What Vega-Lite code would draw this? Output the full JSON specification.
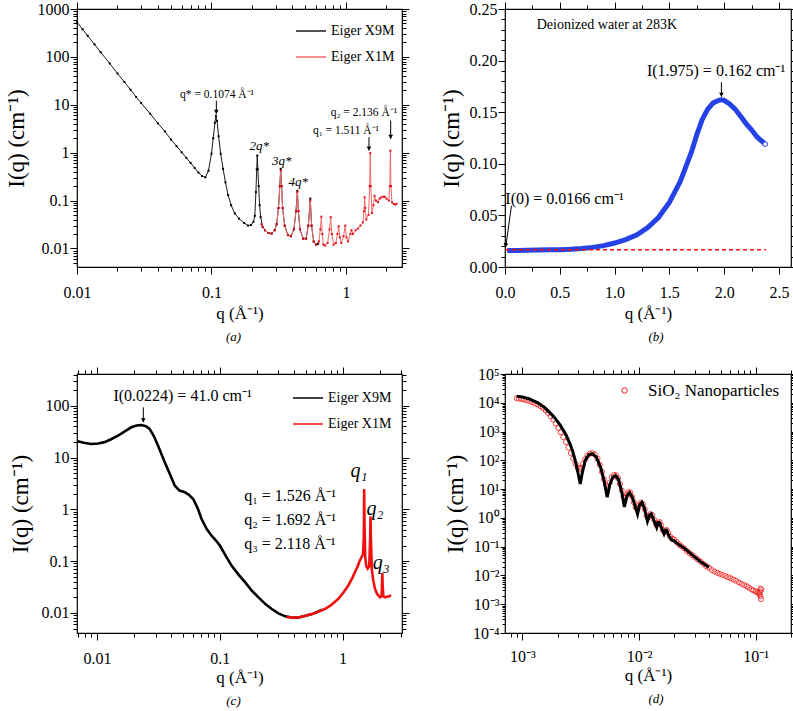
{
"$schema":"https://vega.github.io/schema/vega-lite/v6.json",
"padding":{"left":4,"top":0,"right":0,"bottom":0},
"background":"white",
"columns":2,
"spacing":{"row":107,"column":103},
"bounds":"flush",
"resolve":{"scale":{"color":"independent"}},
"datasets":{
"a9":[{"q":0.01,"I":530},{"q":0.011,"I":378},{"q":0.012,"I":276},{"q":0.0135,"I":183},{"q":0.015,"I":125},{"q":0.0175,"I":73},{"q":0.02,"I":45},{"q":0.0225,"I":30},{"q":0.025,"I":20.6},{"q":0.0275,"I":14.6},{"q":0.03,"I":10.9},{"q":0.035,"I":6.5},{"q":0.04,"I":4.1},{"q":0.045,"I":2.78},{"q":0.05,"I":1.88},{"q":0.055,"I":1.37},{"q":0.06,"I":1.02},{"q":0.065,"I":0.78},{"q":0.07,"I":0.61},{"q":0.075,"I":0.48},{"q":0.08,"I":0.385},{"q":0.085,"I":0.325},{"q":0.09,"I":0.305},{"q":0.095,"I":0.42},{"q":0.1,"I":0.95},{"q":0.103,"I":2.0},{"q":0.106,"I":4.2},{"q":0.108,"I":5.9},{"q":0.11,"I":4.6},{"q":0.113,"I":2.2},{"q":0.117,"I":0.95},{"q":0.122,"I":0.46},{"q":0.127,"I":0.24},{"q":0.133,"I":0.13},{"q":0.14,"I":0.08},{"q":0.149,"I":0.054},{"q":0.16,"I":0.042},{"q":0.175,"I":0.034},{"q":0.187,"I":0.03},{"q":0.197,"I":0.031},{"q":0.205,"I":0.036},{"q":0.21,"I":0.048},{"q":0.214,"I":0.15},{"q":0.217,"I":0.45},{"q":0.219,"I":0.87},{"q":0.221,"I":0.45},{"q":0.2245,"I":0.2},{"q":0.228,"I":0.08},{"q":0.232,"I":0.045},{"q":0.24,"I":0.028},{"q":0.25,"I":0.024},{"q":0.265,"I":0.021},{"q":0.28,"I":0.0205},{"q":0.295,"I":0.024},{"q":0.305,"I":0.032},{"q":0.315,"I":0.07},{"q":0.322,"I":0.2},{"q":0.327,"I":0.46},{"q":0.332,"I":0.2},{"q":0.338,"I":0.07},{"q":0.35,"I":0.03},{"q":0.37,"I":0.019},{"q":0.39,"I":0.018},{"q":0.41,"I":0.025},{"q":0.425,"I":0.06},{"q":0.435,"I":0.16},{"q":0.443,"I":0.06},{"q":0.455,"I":0.025},{"q":0.48,"I":0.016},{"q":0.505,"I":0.016},{"q":0.525,"I":0.03},{"q":0.543,"I":0.11},{"q":0.555,"I":0.03},{"q":0.575,"I":0.014},{"q":0.6,"I":0.012},{"q":0.62,"I":0.0125}],
"a1":[{"q":0.235,"I":0.032},{"q":0.24,"I":0.028},{"q":0.25,"I":0.024},{"q":0.265,"I":0.021},{"q":0.28,"I":0.0205},{"q":0.295,"I":0.024},{"q":0.305,"I":0.032},{"q":0.315,"I":0.07},{"q":0.322,"I":0.2},{"q":0.327,"I":0.42},{"q":0.332,"I":0.2},{"q":0.338,"I":0.07},{"q":0.35,"I":0.03},{"q":0.37,"I":0.019},{"q":0.39,"I":0.018},{"q":0.41,"I":0.025},{"q":0.425,"I":0.06},{"q":0.435,"I":0.15},{"q":0.443,"I":0.06},{"q":0.455,"I":0.025},{"q":0.48,"I":0.016},{"q":0.505,"I":0.016},{"q":0.525,"I":0.03},{"q":0.543,"I":0.1},{"q":0.555,"I":0.03},{"q":0.575,"I":0.014},{"q":0.6,"I":0.012},{"q":0.63,"I":0.014},{"q":0.645,"I":0.025},{"q":0.656,"I":0.046},{"q":0.667,"I":0.02},{"q":0.68,"I":0.012},{"q":0.7,"I":0.0115},{"q":0.73,"I":0.013},{"q":0.755,"I":0.025},{"q":0.77,"I":0.045},{"q":0.785,"I":0.02},{"q":0.81,"I":0.012},{"q":0.84,"I":0.013},{"q":0.865,"I":0.02},{"q":0.882,"I":0.029},{"q":0.9,"I":0.017},{"q":0.923,"I":0.013},{"q":0.96,"I":0.018},{"q":0.988,"I":0.03},{"q":1.01,"I":0.017},{"q":1.035,"I":0.014},{"q":1.08,"I":0.02},{"q":1.1,"I":0.024},{"q":1.127,"I":0.02},{"q":1.18,"I":0.024},{"q":1.228,"I":0.026},{"q":1.28,"I":0.03},{"q":1.337,"I":0.035},{"q":1.36,"I":0.06},{"q":1.376,"I":0.117},{"q":1.39,"I":0.07},{"q":1.416,"I":0.04},{"q":1.47,"I":0.05},{"q":1.5,"I":0.2},{"q":1.515,"I":0.98},{"q":1.53,"I":0.2},{"q":1.56,"I":0.055},{"q":1.6,"I":0.08},{"q":1.63,"I":0.126},{"q":1.67,"I":0.1},{"q":1.73,"I":0.093},{"q":1.78,"I":0.11},{"q":1.83,"I":0.117},{"q":1.9,"I":0.12},{"q":1.94,"I":0.12},{"q":2.0,"I":0.11},{"q":2.08,"I":0.1},{"q":2.12,"I":0.2},{"q":2.14,"I":1.1},{"q":2.16,"I":0.2},{"q":2.2,"I":0.092},{"q":2.27,"I":0.085},{"q":2.33,"I":0.082},{"q":2.38,"I":0.086}],
"a_txt":[{"q":0.11,"I":16.3,"t":"q* = 0.1074 Å⁻¹"},{"q":1.36,"I":6.77,"t":"q₂ = 2.136 Å⁻¹"},{"q":1.0,"I":2.89,"t":"q₁ = 1.511 Å⁻¹"}],
"a_it":[{"q":0.2266,"I":1.41,"t":"2q*"},{"q":0.3334,"I":0.686,"t":"3q*"},{"q":0.4415,"I":0.243,"t":"4q*"}],
"a_arr":[{"q":0.1087,"I":12.2,"I2":6.46},{"q":1.483,"I":2.11,"I2":1.107},{"q":2.15,"I":4.68,"I2":1.94}],
"b":[{"q":0.02,"I":0.016},{"q":0.1,"I":0.0161},{"q":0.2,"I":0.0162},{"q":0.3,"I":0.0164},{"q":0.4,"I":0.0166},{"q":0.5,"I":0.0168},{"q":0.6,"I":0.0172},{"q":0.7,"I":0.0179},{"q":0.8,"I":0.019},{"q":0.9,"I":0.0207},{"q":1.0,"I":0.0232},{"q":1.1,"I":0.0265},{"q":1.2,"I":0.031},{"q":1.3,"I":0.038},{"q":1.4,"I":0.048},{"q":1.5,"I":0.0625},{"q":1.6,"I":0.083},{"q":1.7,"I":0.111},{"q":1.75,"I":0.128},{"q":1.8,"I":0.143},{"q":1.85,"I":0.153},{"q":1.9,"I":0.159},{"q":1.95,"I":0.1615},{"q":1.975,"I":0.162},{"q":2.0,"I":0.1615},{"q":2.05,"I":0.158},{"q":2.1,"I":0.153},{"q":2.15,"I":0.146},{"q":2.2,"I":0.139},{"q":2.25,"I":0.133},{"q":2.3,"I":0.126},{"q":2.375,"I":0.119}],
"b_end":[{"q":2.375,"I":0.119}],
"bdash":[{"q":0,"I":0.0166},{"q":2.38,"I":0.0166}],
"b_txt":[{"q":1.926,"I":0.19,"t":"I(1.975) = 0.162 cm⁻¹"},{"q":0.543,"I":0.0659,"t":"I(0) = 0.0166 cm⁻¹"}],
"b_small":[{"q":0.93,"I":0.2345,"t":"Deionized water at 283K"}],
"b_arrv":[{"q":1.975,"I":0.179,"I2":0.165}],
"b_arrs":[{"q":0.059,"q2":0.006,"I":0.0594,"I2":0.0191}],
"c9":[{"q":0.00695,"I":20.5},{"q":0.0078,"I":19.2},{"q":0.00893,"I":18.2},{"q":0.0102,"I":18.6},{"q":0.0115,"I":19.8},{"q":0.013,"I":22.5},{"q":0.0148,"I":26.3},{"q":0.0168,"I":32},{"q":0.019,"I":38.3},{"q":0.021,"I":41.5},{"q":0.0229,"I":42.2},{"q":0.025,"I":40},{"q":0.0268,"I":35.5},{"q":0.029,"I":26},{"q":0.0314,"I":16.9},{"q":0.0335,"I":11.5},{"q":0.0356,"I":8.07},{"q":0.039,"I":4.9},{"q":0.043,"I":2.86},{"q":0.047,"I":2.3},{"q":0.0519,"I":2.13},{"q":0.056,"I":1.9},{"q":0.0607,"I":1.58},{"q":0.066,"I":1.05},{"q":0.071,"I":0.65},{"q":0.078,"I":0.42},{"q":0.0857,"I":0.309},{"q":0.093,"I":0.25},{"q":0.1004,"I":0.198},{"q":0.112,"I":0.125},{"q":0.125,"I":0.081},{"q":0.142,"I":0.055},{"q":0.161,"I":0.0388},{"q":0.182,"I":0.027},{"q":0.2065,"I":0.02},{"q":0.235,"I":0.0148},{"q":0.265,"I":0.0119},{"q":0.3,"I":0.0098},{"q":0.341,"I":0.0086},{"q":0.39,"I":0.0081},{"q":0.438,"I":0.0082},{"q":0.5,"I":0.0088},{"q":0.564,"I":0.0095},{"q":0.62,"I":0.0104},{"q":0.681,"I":0.0115}],
"c1":[{"q":0.35,"I":0.0084},{"q":0.4,"I":0.0081},{"q":0.45,"I":0.0083},{"q":0.5,"I":0.0088},{"q":0.57,"I":0.0096},{"q":0.64,"I":0.0106},{"q":0.716,"I":0.0119},{"q":0.8,"I":0.014},{"q":0.92,"I":0.0186},{"q":1.02,"I":0.025},{"q":1.111,"I":0.0335},{"q":1.2,"I":0.047},{"q":1.26,"I":0.0608},{"q":1.33,"I":0.08},{"q":1.38,"I":0.102},{"q":1.43,"I":0.12},{"q":1.47,"I":0.137},{"q":1.49,"I":0.3},{"q":1.5,"I":2.47},{"q":1.51,"I":0.5},{"q":1.53,"I":0.12},{"q":1.56,"I":0.08},{"q":1.6,"I":0.072},{"q":1.65,"I":0.08},{"q":1.68,"I":0.3},{"q":1.69,"I":0.73},{"q":1.7,"I":0.3},{"q":1.73,"I":0.071},{"q":1.78,"I":0.042},{"q":1.84,"I":0.029},{"q":1.92,"I":0.023},{"q":2.02,"I":0.02},{"q":2.08,"I":0.021},{"q":2.1,"I":0.04},{"q":2.11,"I":0.059},{"q":2.12,"I":0.035},{"q":2.15,"I":0.021},{"q":2.22,"I":0.02},{"q":2.3,"I":0.0205},{"q":2.4,"I":0.021},{"q":2.48,"I":0.0222}],
"c_txt":[{"q":0.0497,"I":156,"t":"I(0.0224) = 41.0 cm⁻¹"}],
"c_arr":[{"q":0.0238,"I":93,"I2":48}],
"c_ql":[{"q":0.158,"I":1.83,"t":"q₁ = 1.526 Å⁻¹"},{"q":0.158,"I":0.63,"t":"q₂ = 1.692 Å⁻¹"},{"q":0.158,"I":0.214,"t":"q₃ = 2.118 Å⁻¹"}],
"c_qi":[{"q":1.36,"I":5.4,"t":"q₁"},{"q":1.84,"I":1.01,"t":"q₂"},{"q":2.07,"I":0.091,"t":"q₃"}],
"d":[{"q":0.00089,"I":14500},{"q":0.00093,"I":14000},{"q":0.00098,"I":13600},{"q":0.00103,"I":13000},{"q":0.00109,"I":12200},{"q":0.00115,"I":11400},{"q":0.00121,"I":10500},{"q":0.00128,"I":9500},{"q":0.001355,"I":8700},{"q":0.00143,"I":7600},{"q":0.0015,"I":6600},{"q":0.00158,"I":5500},{"q":0.00166,"I":4400},{"q":0.00175,"I":3400},{"q":0.00184,"I":2600},{"q":0.00193,"I":1900},{"q":0.00203,"I":1350},{"q":0.00213,"I":950},{"q":0.00224,"I":640},{"q":0.00236,"I":430},{"q":0.00248,"I":280},{"q":0.0026,"I":180},{"q":0.00272,"I":115},{"q":0.00285,"I":75},{"q":0.00298,"I":55},{"q":0.00308,"I":50},{"q":0.00318,"I":55},{"q":0.0033,"I":75},{"q":0.00345,"I":110},{"q":0.0036,"I":145},{"q":0.00378,"I":170},{"q":0.00398,"I":178},{"q":0.00418,"I":160},{"q":0.0044,"I":115},{"q":0.0046,"I":70},{"q":0.0048,"I":40},{"q":0.005,"I":22},{"q":0.0052,"I":14},{"q":0.0054,"I":12},{"q":0.0056,"I":17},{"q":0.00585,"I":26},{"q":0.0061,"I":31},{"q":0.00635,"I":30},{"q":0.0066,"I":24},{"q":0.00685,"I":15},{"q":0.0071,"I":9},{"q":0.00735,"I":5.5},{"q":0.0076,"I":5},{"q":0.00785,"I":6.5},{"q":0.0081,"I":7.8},{"q":0.0084,"I":7.6},{"q":0.0087,"I":5.5},{"q":0.009,"I":3.5},{"q":0.00935,"I":2.3},{"q":0.0097,"I":2.0},{"q":0.01,"I":2.8},{"q":0.0104,"I":3.4},{"q":0.0108,"I":3.0},{"q":0.0112,"I":2.0},{"q":0.0116,"I":1.2},{"q":0.012,"I":1.05},{"q":0.0125,"I":1.35},{"q":0.013,"I":1.25},{"q":0.0135,"I":0.85},{"q":0.014,"I":0.58},{"q":0.0145,"I":0.65},{"q":0.015,"I":0.72},{"q":0.0155,"I":0.55},{"q":0.016,"I":0.38},{"q":0.0166,"I":0.33},{"q":0.0172,"I":0.38},{"q":0.0178,"I":0.3},{"q":0.0185,"I":0.22},{"q":0.0192,"I":0.19},{"q":0.02,"I":0.175},{"q":0.021,"I":0.145},{"q":0.022,"I":0.12},{"q":0.023,"I":0.104},{"q":0.0243,"I":0.088},{"q":0.0257,"I":0.071},{"q":0.0272,"I":0.059},{"q":0.0287,"I":0.05},{"q":0.0303,"I":0.042},{"q":0.032,"I":0.036},{"q":0.0338,"I":0.03},{"q":0.0357,"I":0.025},{"q":0.0377,"I":0.021},{"q":0.0398,"I":0.0185},{"q":0.042,"I":0.0155},{"q":0.0443,"I":0.0137},{"q":0.0468,"I":0.0123},{"q":0.0494,"I":0.0113},{"q":0.052,"I":0.0104},{"q":0.055,"I":0.0096},{"q":0.058,"I":0.0087},{"q":0.061,"I":0.008},{"q":0.0645,"I":0.0072},{"q":0.068,"I":0.0065},{"q":0.072,"I":0.0057},{"q":0.076,"I":0.0051},{"q":0.08,"I":0.0046},{"q":0.084,"I":0.0042},{"q":0.088,"I":0.0037},{"q":0.092,"I":0.0033},{"q":0.096,"I":0.003},{"q":0.1,"I":0.0028},{"q":0.103,"I":0.0026},{"q":0.106,"I":0.0024},{"q":0.108,"I":0.0022},{"q":0.11,"I":0.0019},{"q":0.11,"I":0.0035},{"q":0.112,"I":0.0032},{"q":0.111,"I":0.0015},{"q":0.109,"I":0.0027}],
"dfit":[{"q":0.00089,"I":16800},{"q":0.001,"I":15800},{"q":0.00115,"I":13500},{"q":0.001355,"I":10000},{"q":0.00155,"I":6800},{"q":0.00175,"I":4200},{"q":0.00188,"I":3100},{"q":0.0021,"I":1700},{"q":0.00236,"I":780},{"q":0.00255,"I":380},{"q":0.00269,"I":210},{"q":0.00285,"I":90},{"q":0.003,"I":35},{"q":0.00313,"I":15},{"q":0.00325,"I":35},{"q":0.00345,"I":100},{"q":0.0037,"I":155},{"q":0.00398,"I":170},{"q":0.0043,"I":130},{"q":0.00468,"I":57},{"q":0.005,"I":20},{"q":0.00533,"I":5.2},{"q":0.0056,"I":14},{"q":0.00595,"I":26},{"q":0.00628,"I":29.5},{"q":0.00665,"I":22},{"q":0.0071,"I":8},{"q":0.00748,"I":2.4},{"q":0.0079,"I":6},{"q":0.0083,"I":7.5},{"q":0.0088,"I":5},{"q":0.0097,"I":1.35},{"q":0.0101,"I":2.8},{"q":0.01057,"I":3.5},{"q":0.0111,"I":2.2},{"q":0.0118,"I":0.76},{"q":0.0123,"I":1.25},{"q":0.0127,"I":1.38},{"q":0.0133,"I":0.9},{"q":0.01416,"I":0.47},{"q":0.0145,"I":0.68},{"q":0.0149,"I":0.7},{"q":0.0156,"I":0.45},{"q":0.01637,"I":0.28},{"q":0.0168,"I":0.37},{"q":0.0172,"I":0.38},{"q":0.018,"I":0.24},{"q":0.019,"I":0.17},{"q":0.02,"I":0.16},{"q":0.0215,"I":0.125},{"q":0.0243,"I":0.09},{"q":0.0296,"I":0.046},{"q":0.0345,"I":0.028},{"q":0.0397,"I":0.0192}]
},
"concat":[
{
"width":325,"height":258,
"title":{"text":"(a)","orient":"bottom","fontStyle":"italic","fontSize":13,"offset":10,"dx":-6,"font":"Liberation Serif"},
"layer":[
{"data":{"name":"a9"},"mark":{"type":"line","strokeWidth":1},
"encoding":{
"x":{"field":"q","type":"quantitative","scale":{"type":"log","domain":[0.01,2.61],"nice":false},"axis":{"orient":"bottom","values":[0.01,0.1,1],"format":"~g","title":"q (Å⁻¹)","titleFontSize":17,"labelPadding":10,"titlePadding":5,"labelFont":"Liberation Serif","titleFont":"Liberation Serif"}},
"y":{"field":"I","type":"quantitative","scale":{"type":"log","domain":[0.0041,1000],"nice":false},"axis":{"orient":"left","values":[0.01,0.1,1,10,100,1000],"format":"~g","title":"I(q) (cm⁻¹)","titleFontSize":23,"labelPadding":1,"titlePadding":9,"labelFont":"Liberation Serif","titleFont":"Liberation Serif"}},
"color":{"datum":"Eiger X9M","type":"nominal","scale":{"domain":["Eiger X9M","Eiger X1M"],"range":["#1a1a1a","#f26a6a"]},"legend":{"title":null,"orient":"none","legendX":218,"legendY":6,"symbolType":"stroke","symbolSize":900,"symbolStrokeWidth":1.5,"labelFontSize":14,"labelFont":"Liberation Serif","rowPadding":3,"labelOffset":4}}}},
{"data":{"name":"a1"},"mark":{"type":"line","strokeWidth":1},
"encoding":{
"x":{"field":"q","type":"quantitative","scale":{"type":"log"},"axis":{"orient":"bottom","values":[0.02,0.03,0.04,0.05,0.06,0.07,0.08,0.09,0.2,0.3,0.4,0.5,0.6,0.7,0.8,0.9,2],"labels":false,"title":null,"tickSize":4}},
"y":{"field":"I","type":"quantitative","scale":{"type":"log"},"axis":{"orient":"left","values":[0.005,0.006,0.007,0.008,0.009,0.02,0.03,0.04,0.05,0.06,0.07,0.08,0.09,0.2,0.3,0.4,0.5,0.6,0.7,0.8,0.9,2,3,4,5,6,7,8,9,20,30,40,50,60,70,80,90,200,300,400,500,600,700,800,900],"labels":false,"title":null,"tickSize":4}},
"color":{"datum":"Eiger X1M","type":"nominal"}}},
{"data":{"name":"a9"},"mark":{"type":"point","shape":"square","filled":true,"size":4,"color":"#000000","opacity":1},
"encoding":{
"x":{"field":"q","type":"quantitative","scale":{"type":"log"},"axis":{"orient":"top","values":[0.01,0.1,1],"labels":false,"title":null}},
"y":{"field":"I","type":"quantitative","scale":{"type":"log"},"axis":{"orient":"right","values":[0.01,0.1,1,10,100,1000],"labels":false,"title":null}}}},
{"data":{"name":"a1"},"mark":{"type":"point","shape":"square","filled":true,"size":4,"color":"#e8101a","opacity":1},
"encoding":{
"x":{"field":"q","type":"quantitative","scale":{"type":"log"},"axis":{"orient":"top","values":[0.02,0.03,0.04,0.05,0.06,0.07,0.08,0.09,0.2,0.3,0.4,0.5,0.6,0.7,0.8,0.9,2],"labels":false,"title":null,"tickSize":4}},
"y":{"field":"I","type":"quantitative","scale":{"type":"log"},"axis":{"orient":"right","values":[0.005,0.006,0.007,0.008,0.009,0.02,0.03,0.04,0.05,0.06,0.07,0.08,0.09,0.2,0.3,0.4,0.5,0.6,0.7,0.8,0.9,2,3,4,5,6,7,8,9,20,30,40,50,60,70,80,90,200,300,400,500,600,700,800,900],"labels":false,"title":null,"tickSize":4}}}},
{"data":{"name":"a_arr"},"mark":{"type":"rule","color":"black","strokeWidth":1},
"encoding":{"x":{"field":"q","type":"quantitative","scale":{"type":"log"},"axis":null},"y":{"field":"I","type":"quantitative","scale":{"type":"log"},"axis":null},"y2":{"field":"I2"}}},
{"data":{"name":"a_arr"},"mark":{"type":"point","shape":"triangle-down","filled":true,"size":22,"color":"black","opacity":1,"yOffset":-2},
"encoding":{"x":{"field":"q","type":"quantitative","scale":{"type":"log"},"axis":null},"y":{"field":"I2","type":"quantitative","scale":{"type":"log"},"axis":null}}},
{"data":{"name":"a_txt"},"mark":{"type":"text","fontSize":11.5,"align":"center","baseline":"middle","font":"Liberation Serif"},
"encoding":{"x":{"field":"q","type":"quantitative","scale":{"type":"log"},"axis":null},"y":{"field":"I","type":"quantitative","scale":{"type":"log"},"axis":null},"text":{"field":"t"}}},
{"data":{"name":"a_it"},"mark":{"type":"text","fontSize":13,"fontStyle":"italic","align":"center","baseline":"middle","font":"Liberation Serif"},
"encoding":{"x":{"field":"q","type":"quantitative","scale":{"type":"log"},"axis":null},"y":{"field":"I","type":"quantitative","scale":{"type":"log"},"axis":null},"text":{"field":"t"}}}
],
"resolve":{"axis":{"x":"independent","y":"independent"}}
},
{
"width":286,"height":258,
"title":{"text":"(b)","orient":"bottom","fontStyle":"italic","fontSize":13,"offset":10,"dx":8,"font":"Liberation Serif"},
"layer":[
{"data":{"name":"b"},"mark":{"type":"line","strokeWidth":5,"color":"#2442e6"},
"encoding":{
"x":{"field":"q","type":"quantitative","scale":{"domain":[0,2.61],"nice":false,"zero":false},"axis":{"orient":"bottom","values":[0,0.5,1,1.5,2,2.5],"format":".1f","title":"q (Å⁻¹)","titleFontSize":17,"labelPadding":10,"titlePadding":5,"labelFont":"Liberation Serif","titleFont":"Liberation Serif"}},
"y":{"field":"I","type":"quantitative","scale":{"domain":[0,0.25],"nice":false},"axis":{"orient":"left","values":[0,0.05,0.1,0.15,0.2,0.25],"format":".2f","title":"I(q) (cm⁻¹)","titleFontSize":23,"labelPadding":1,"titlePadding":6,"labelFont":"Liberation Serif","titleFont":"Liberation Serif"}}}},
{"data":{"name":"bdash"},"mark":{"type":"line","strokeWidth":1.5,"color":"#f01010","strokeDash":[4,3]},
"encoding":{
"x":{"field":"q","type":"quantitative","axis":{"orient":"bottom","values":[0.25,0.75,1.25,1.75,2.25],"labels":false,"title":null,"tickSize":4}},
"y":{"field":"I","type":"quantitative","axis":{"orient":"left","values":[0.01,0.02,0.03,0.04,0.06,0.07,0.08,0.09,0.11,0.12,0.13,0.14,0.16,0.17,0.18,0.19,0.21,0.22,0.23,0.24],"labels":false,"title":null,"tickSize":4}}}},
{"data":{"name":"b_txt"},"mark":{"type":"text","fontSize":16,"align":"center","baseline":"middle","font":"Liberation Serif"},
"encoding":{
"x":{"field":"q","type":"quantitative","axis":{"orient":"top","values":[0,0.5,1,1.5,2,2.5],"labels":false,"title":null}},
"y":{"field":"I","type":"quantitative","axis":{"orient":"right","values":[0,0.05,0.1,0.15,0.2,0.25],"labels":false,"title":null,"tickSize":4}},
"text":{"field":"t"}}},
{"data":{"name":"b_arrv"},"mark":{"type":"rule","color":"black","strokeWidth":1},
"encoding":{
"x":{"field":"q","type":"quantitative","axis":{"orient":"top","values":[0.25,0.75,1.25,1.75,2.25],"labels":false,"title":null,"tickSize":4}},
"y":{"field":"I","type":"quantitative","axis":{"orient":"right","values":[0.01,0.02,0.03,0.04,0.06,0.07,0.08,0.09,0.11,0.12,0.13,0.14,0.16,0.17,0.18,0.19,0.21,0.22,0.23,0.24],"labels":false,"title":null,"tickSize":3}},
"y2":{"field":"I2"}}},
{"data":{"name":"b_arrs"},"mark":{"type":"rule","color":"black","strokeWidth":1},
"encoding":{"x":{"field":"q","type":"quantitative","axis":null},"x2":{"field":"q2"},"y":{"field":"I","type":"quantitative","axis":null},"y2":{"field":"I2"}}},
{"data":{"name":"b_arrv"},"mark":{"type":"point","shape":"triangle-down","filled":true,"size":22,"color":"black","opacity":1,"yOffset":-2},
"encoding":{"x":{"field":"q","type":"quantitative","axis":null},"y":{"field":"I2","type":"quantitative","axis":null}}},
{"data":{"name":"b_arrs"},"mark":{"type":"point","shape":"triangle-down","filled":true,"size":22,"color":"black","opacity":1,"yOffset":-2,"angle":8},
"encoding":{"x":{"field":"q2","type":"quantitative","axis":null},"y":{"field":"I2","type":"quantitative","axis":null}}},
{"data":{"name":"b_end"},"mark":{"type":"point","shape":"circle","filled":true,"fill":"white","stroke":"#2442e6","strokeWidth":1,"size":22,"opacity":1},
"encoding":{"x":{"field":"q","type":"quantitative","axis":null},"y":{"field":"I","type":"quantitative","axis":null}}},
{"data":{"name":"b_small"},"mark":{"type":"text","fontSize":14,"align":"center","baseline":"middle","font":"Liberation Serif"},
"encoding":{"x":{"field":"q","type":"quantitative","axis":null},"y":{"field":"I","type":"quantitative","axis":null},"text":{"field":"t"}}}
],
"resolve":{"axis":{"x":"independent","y":"independent"}}
},
{
"width":325,"height":259,
"title":{"text":"(c)","orient":"bottom","fontStyle":"italic","fontSize":13,"offset":10,"dx":-6,"font":"Liberation Serif"},
"layer":[
{"data":{"name":"c9"},"mark":{"type":"line","strokeWidth":2.6},
"encoding":{
"x":{"field":"q","type":"quantitative","scale":{"type":"log","domain":[0.00686,3.05],"nice":false},"axis":{"orient":"bottom","values":[0.01,0.1,1],"format":"~g","title":"q (Å⁻¹)","titleFontSize":17,"labelPadding":10,"titlePadding":3,"labelFont":"Liberation Serif","titleFont":"Liberation Serif"}},
"y":{"field":"I","type":"quantitative","scale":{"type":"log","domain":[0.0041,409],"nice":false},"axis":{"orient":"left","values":[0.01,0.1,1,10,100],"format":"~g","title":"I(q) (cm⁻¹)","titleFontSize":23,"labelPadding":1,"titlePadding":9,"labelFont":"Liberation Serif","titleFont":"Liberation Serif"}},
"color":{"datum":"Eiger X9M","type":"nominal","scale":{"domain":["Eiger X9M","Eiger X1M"],"range":["#000000","#f01010"]},"legend":{"title":null,"orient":"none","legendX":215,"legendY":8,"symbolType":"stroke","symbolSize":900,"symbolStrokeWidth":1.5,"labelFontSize":14,"labelFont":"Liberation Serif","rowPadding":3,"labelOffset":4}}}},
{"data":{"name":"c1"},"mark":{"type":"line","strokeWidth":2.6},
"encoding":{
"x":{"field":"q","type":"quantitative","scale":{"type":"log"},"axis":{"orient":"bottom","values":[0.007,0.008,0.009,0.02,0.03,0.04,0.05,0.06,0.07,0.08,0.09,0.2,0.3,0.4,0.5,0.6,0.7,0.8,0.9,2,3],"labels":false,"title":null,"tickSize":4}},
"y":{"field":"I","type":"quantitative","scale":{"type":"log"},"axis":{"orient":"left","values":[0.005,0.006,0.007,0.008,0.009,0.02,0.03,0.04,0.05,0.06,0.07,0.08,0.09,0.2,0.3,0.4,0.5,0.6,0.7,0.8,0.9,2,3,4,5,6,7,8,9,20,30,40,50,60,70,80,90,200,300,400],"labels":false,"title":null,"tickSize":4}},
"color":{"datum":"Eiger X1M","type":"nominal"}}},
{"data":{"name":"c_txt"},"mark":{"type":"text","fontSize":16,"align":"center","baseline":"middle","font":"Liberation Serif"},
"encoding":{
"x":{"field":"q","type":"quantitative","scale":{"type":"log"},"axis":{"orient":"top","values":[0.01,0.1,1],"labels":false,"title":null}},
"y":{"field":"I","type":"quantitative","scale":{"type":"log"},"axis":{"orient":"right","values":[0.01,0.1,1,10,100],"labels":false,"title":null}},
"text":{"field":"t"}}},
{"data":{"name":"c_arr"},"mark":{"type":"rule","color":"black","strokeWidth":1},
"encoding":{
"x":{"field":"q","type":"quantitative","scale":{"type":"log"},"axis":{"orient":"top","values":[0.007,0.008,0.009,0.02,0.03,0.04,0.05,0.06,0.07,0.08,0.09,0.2,0.3,0.4,0.5,0.6,0.7,0.8,0.9,2,3],"labels":false,"title":null,"tickSize":4}},
"y":{"field":"I","type":"quantitative","scale":{"type":"log"},"axis":{"orient":"right","values":[0.005,0.006,0.007,0.008,0.009,0.02,0.03,0.04,0.05,0.06,0.07,0.08,0.09,0.2,0.3,0.4,0.5,0.6,0.7,0.8,0.9,2,3,4,5,6,7,8,9,20,30,40,50,60,70,80,90,200,300,400],"labels":false,"title":null,"tickSize":4}},
"y2":{"field":"I2"}}},
{"data":{"name":"c_arr"},"mark":{"type":"point","shape":"triangle-down","filled":true,"size":22,"color":"black","opacity":1,"yOffset":-2},
"encoding":{"x":{"field":"q","type":"quantitative","scale":{"type":"log"},"axis":null},"y":{"field":"I2","type":"quantitative","scale":{"type":"log"},"axis":null}}},
{"data":{"name":"c_ql"},"mark":{"type":"text","fontSize":16,"align":"left","baseline":"middle","font":"Liberation Serif"},
"encoding":{"x":{"field":"q","type":"quantitative","scale":{"type":"log"},"axis":null},"y":{"field":"I","type":"quantitative","scale":{"type":"log"},"axis":null},"text":{"field":"t"}}},
{"data":{"name":"c_qi"},"mark":{"type":"text","fontSize":20,"fontStyle":"italic","align":"center","baseline":"middle","font":"Liberation Serif"},
"encoding":{"x":{"field":"q","type":"quantitative","scale":{"type":"log"},"axis":null},"y":{"field":"I","type":"quantitative","scale":{"type":"log"},"axis":null},"text":{"field":"t"}}}
],
"resolve":{"axis":{"x":"independent","y":"independent"}}
},
{
"width":286,"height":259,
"title":{"text":"(d)","orient":"bottom","fontStyle":"italic","fontSize":13,"offset":10,"dx":8,"font":"Liberation Serif"},
"layer":[
{"data":{"name":"d"},"mark":{"type":"point","shape":"circle","filled":false,"size":26,"strokeWidth":0.8,"opacity":1},
"encoding":{
"x":{"field":"q","type":"quantitative","scale":{"type":"log","domain":[0.000708,0.201],"nice":false},"axis":{"orient":"bottom","values":[0.001,0.01,0.1],"labelExpr":"'10' + ['⁻⁴','⁻³','⁻²','⁻¹','⁰','¹','²','³','⁴','⁵'][round(log(datum.value)/LN10)+4]","title":"q (Å⁻¹)","titleFontSize":17,"labelPadding":8,"titlePadding":3,"labelFont":"Liberation Serif","titleFont":"Liberation Serif"}},
"y":{"field":"I","type":"quantitative","scale":{"type":"log","domain":[0.0001,100000],"nice":false},"axis":{"orient":"left","values":[0.0001,0.001,0.01,0.1,1,10,100,1000,10000,100000],"labelExpr":"'10' + ['⁻⁴','⁻³','⁻²','⁻¹','⁰','¹','²','³','⁴','⁵'][round(log(datum.value)/LN10)+4]","title":"I(q) (cm⁻¹)","titleFontSize":23,"labelPadding":1,"titlePadding":5,"tickSize":5,"labelFont":"Liberation Serif","titleFont":"Liberation Serif"}},
"color":{"datum":"SiO₂ Nanoparticles","type":"nominal","scale":{"range":["#f01c1c"]},"legend":{"title":null,"orient":"none","legendX":111,"legendY":8,"symbolType":"circle","symbolSize":30,"symbolStrokeWidth":1,"labelFontSize":17,"labelFont":"Liberation Serif","labelOffset":15}}}},
{"data":{"name":"dfit"},"mark":{"type":"line","strokeWidth":3,"color":"black"},
"encoding":{
"x":{"field":"q","type":"quantitative","scale":{"type":"log"},"axis":{"orient":"bottom","values":[0.0008,0.0009,0.002,0.003,0.004,0.005,0.006,0.007,0.008,0.009,0.02,0.03,0.04,0.05,0.06,0.07,0.08,0.09,0.2],"labels":false,"title":null,"tickSize":4}},
"y":{"field":"I","type":"quantitative","scale":{"type":"log"},"axis":{"orient":"left","values":[0.0002,0.0003,0.0004,0.0005,0.0006,0.0007,0.0008,0.0009,0.002,0.003,0.004,0.005,0.006,0.007,0.008,0.009,0.02,0.03,0.04,0.05,0.06,0.07,0.08,0.09,0.2,0.3,0.4,0.5,0.6,0.7,0.8,0.9,2,3,4,5,6,7,8,9,20,30,40,50,60,70,80,90,200,300,400,500,600,700,800,900,2000,3000,4000,5000,6000,7000,8000,9000,20000,30000,40000,50000,60000,70000,80000,90000],"labels":false,"title":null,"tickSize":3}}}},
{"data":{"name":"dfit"},"mark":{"type":"line","strokeWidth":3,"color":"black","opacity":0},
"encoding":{
"x":{"field":"q","type":"quantitative","scale":{"type":"log"},"axis":{"orient":"top","values":[0.001,0.01,0.1],"labels":false,"title":null}},
"y":{"field":"I","type":"quantitative","scale":{"type":"log"},"axis":{"orient":"right","values":[0.0001,0.001,0.01,0.1,1,10,100,1000,10000,100000],"labels":false,"title":null,"tickSize":4}}}},
{"data":{"name":"dfit"},"mark":{"type":"line","strokeWidth":3,"color":"black","opacity":0},
"encoding":{
"x":{"field":"q","type":"quantitative","scale":{"type":"log"},"axis":{"orient":"top","values":[0.0008,0.0009,0.002,0.003,0.004,0.005,0.006,0.007,0.008,0.009,0.02,0.03,0.04,0.05,0.06,0.07,0.08,0.09,0.2],"labels":false,"title":null,"tickSize":4}},
"y":{"field":"I","type":"quantitative","scale":{"type":"log"},"axis":{"orient":"right","values":[0.0002,0.0003,0.0004,0.0005,0.0006,0.0007,0.0008,0.0009,0.002,0.003,0.004,0.005,0.006,0.007,0.008,0.009,0.02,0.03,0.04,0.05,0.06,0.07,0.08,0.09,0.2,0.3,0.4,0.5,0.6,0.7,0.8,0.9,2,3,4,5,6,7,8,9,20,30,40,50,60,70,80,90,200,300,400,500,600,700,800,900,2000,3000,4000,5000,6000,7000,8000,9000,20000,30000,40000,50000,60000,70000,80000,90000],"labels":false,"title":null,"tickSize":2}}}}
],
"resolve":{"axis":{"x":"independent","y":"independent"}}
}
],
"config":{
"font":"Liberation Serif",
"view":{"stroke":"black","strokeWidth":1.2},
"axis":{"labelFont":"Liberation Serif","titleFont":"Liberation Serif","labelFontSize":16,"labelColor":"black","titleColor":"black","tickColor":"black","tickWidth":1,"tickSize":7,"domain":false,"grid":false,"titleFontWeight":"normal","labelFlush":false,"labelOverlap":false},
"style":{"guide-label":{"font":"Liberation Serif"},"guide-title":{"font":"Liberation Serif"}},
"legend":{"labelFont":"Liberation Serif","labelColor":"black","padding":0},
"title":{"font":"Liberation Serif","fontWeight":"normal","color":"black"},
"text":{"font":"Liberation Serif","color":"black"}
}
}
